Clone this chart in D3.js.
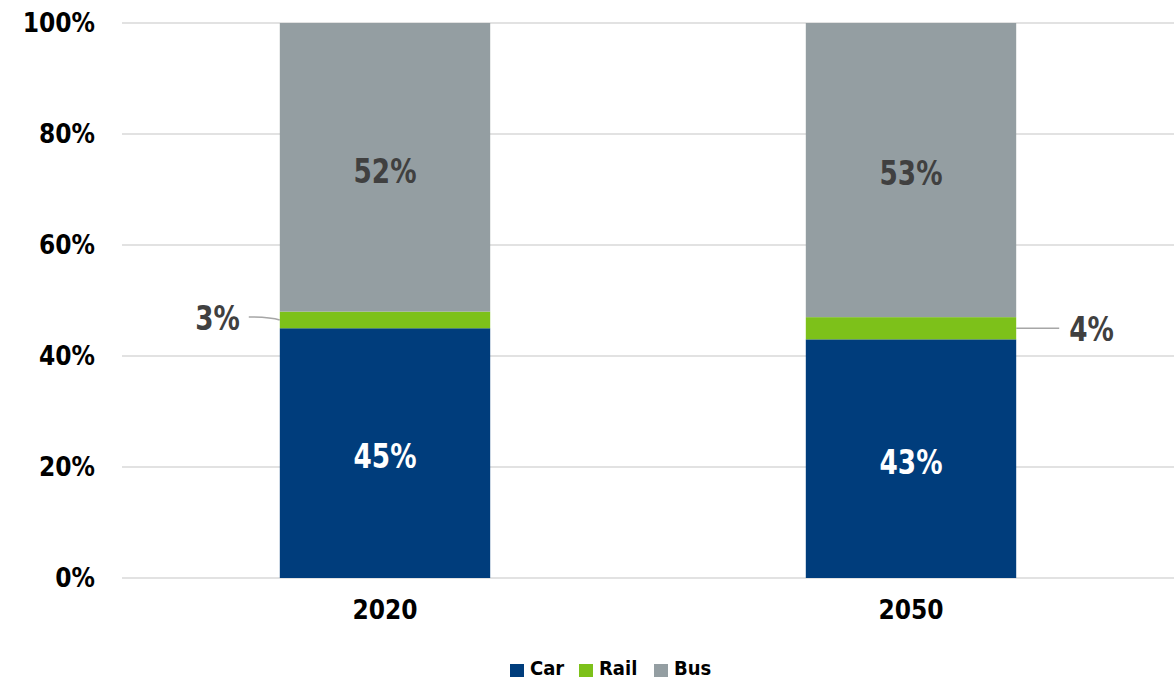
<!DOCTYPE html>
<html>
<head>
<meta charset="utf-8">
<script src="https://cdn.jsdelivr.net/npm/d3@7"></script>
<style>
  html, body { margin: 0; padding: 0; background: #fff; }
  svg { display: block; }
  text { font-family: "DejaVu Sans Condensed", "Liberation Sans Narrow", sans-serif; font-weight: bold; }
</style>
</head>
<body>
<svg id="chart" width="1174" height="682"></svg>
<script>
// Mode share by year (percent)
const years = ["2020", "2050"];
const modes = ["Car", "Rail", "Bus"];
const car  = [45, 43];
const rail = [3, 4];
const bus  = [52, 53];
const yTicks = [0, 20, 40, 60, 80, 100];
const colors = ["#003d7c", "#7dc11a", "#949ea2"];

const W = 1174, H = 682;
const margin = { top: 23, right: 0, bottom: 104, left: 122 };
const svg = d3.select("#chart");
const FONT = "'DejaVu Sans Condensed', 'Liberation Sans Narrow', sans-serif";

const x = d3.scaleBand().domain(years)
  .range([margin.left, W - margin.right])
  .paddingInner(0.6).paddingOuter(0.3);
const y = d3.scaleLinear().domain([0, 100]).range([H - margin.bottom, margin.top]);

// Gridlines
svg.append("g").selectAll("line").data(yTicks).join("line")
  .attr("x1", margin.left).attr("x2", W - margin.right)
  .attr("y1", d => y(d)).attr("y2", d => y(d))
  .attr("stroke", "#d9d9d9").attr("stroke-width", 1.5);

// Y axis labels
const yAxis = svg.append("g")
  .attr("transform", `translate(${margin.left},0)`)
  .call(d3.axisLeft(y).tickValues(yTicks).tickFormat(d => d + "%").tickSize(0).tickPadding(27));
yAxis.select(".domain").remove();
yAxis.selectAll("text").attr("font-size", 26).attr("fill", "#000")
  .style("font-family", FONT).style("font-weight", "bold");

// X axis labels
const xAxis = svg.append("g")
  .attr("transform", `translate(0,${H - margin.bottom})`)
  .call(d3.axisBottom(x).tickSize(0).tickPadding(23));
xAxis.select(".domain").remove();
xAxis.selectAll("text").attr("font-size", 26).attr("fill", "#000")
  .style("font-family", FONT).style("font-weight", "bold");

// Stacked bars
const rows = years.map((yr, i) => ({ year: yr, Car: car[i], Rail: rail[i], Bus: bus[i] }));
const stack = d3.stack().keys(modes)(rows);

svg.append("g").selectAll("g").data(stack).join("g")
  .attr("fill", (d, i) => colors[i])
  .selectAll("rect").data(d => d).join("rect")
  .attr("x", d => x(d.data.year))
  .attr("width", x.bandwidth())
  .attr("y", d => y(d[1]))
  .attr("height", d => y(d[0]) - y(d[1]));

// Narrow, tall data-label text
function label(g, px, py, anchor, color, str) {
  g.append("text")
    .attr("transform", `translate(${px},${py}) scale(0.86,1)`)
    .attr("dy", "0.36em")
    .attr("text-anchor", anchor)
    .attr("font-size", 34)
    .attr("fill", color)
    .text(str);
}

// Labels inside Car and Bus segments
const inside = svg.append("g");
[0, 2].forEach(k => {
  stack[k].forEach(d => {
    label(inside, x(d.data.year) + x.bandwidth() / 2, (y(d[0]) + y(d[1])) / 2 + 3,
      "middle", k === 0 ? "#fff" : "#404040", (d[1] - d[0]) + "%");
  });
});

// Rail labels with leader lines (outside the bars)
const railG = svg.append("g");
stack[1].forEach((d, i) => {
  const mid = (y(d[0]) + y(d[1])) / 2;
  const left = i === 0;
  const bx = left ? x(d.data.year) : x(d.data.year) + x.bandwidth();
  const ex = left ? bx - 31 : bx + 43;
  const ly = left ? mid - 3 : mid;
  railG.append("path")
    .attr("d", left
      ? `M${bx},${mid} Q${bx - 10},${ly} ${ex},${ly}`
      : `M${bx},${mid} L${ex},${ly}`)
    .attr("fill", "none").attr("stroke", "#a6a6a6").attr("stroke-width", 1.5);
  label(railG, left ? ex - 9 : ex + 10, ly + 1, left ? "end" : "start", "#404040", (d[1] - d[0]) + "%");
});

// Legend
const legend = svg.append("g").attr("transform", "translate(510,668)");
const legX = [0, 69, 144];
modes.forEach((m, i) => {
  const g = legend.append("g").attr("transform", `translate(${legX[i]},0)`);
  g.append("rect").attr("x", 0).attr("y", -4).attr("width", 14).attr("height", 13).attr("fill", colors[i]);
  g.append("text").attr("x", 20).attr("y", 0).attr("dy", "0.36em")
    .attr("font-size", 20).attr("fill", "#000").text(m);
});
</script>
</body>
</html>
